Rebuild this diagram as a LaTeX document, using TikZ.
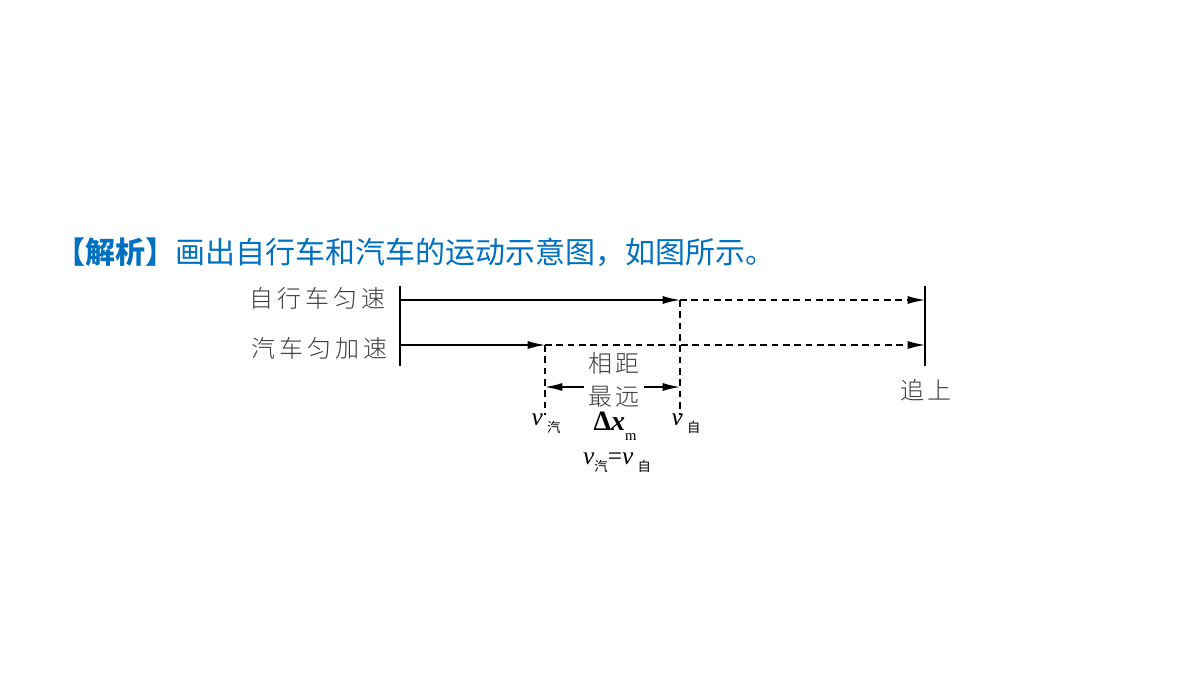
\documentclass[tikz,border=0pt]{standalone}
\usepackage{fontspec}
\setmainfont{Liberation Serif}
\newfontfamily\cjk{Noto Sans CJK SC}
\newfontfamily\cjklab[LetterSpace=16]{Noto Sans CJK SC Light}
\usetikzlibrary{arrows.meta}
\definecolor{titleblue}{RGB}{0,112,192}
\definecolor{labgray}{RGB}{60,60,60}
\newcommand{\subcn}[1]{\raisebox{-0.6ex}{\cjk\fontsize{10}{10}\selectfont #1}}

\begin{document}
\begin{tikzpicture}[x=0.75pt,y=-0.75pt,line join=round,>={Latex[length=13pt,width=6pt]},line width=1pt]
	\tikzset{lab/.style={font=\cjklab\fontsize{18}{21}\selectfont,text=labgray,inner sep=0pt},
		sym/.style={font=\fontsize{19}{22}\selectfont,inner sep=0pt},
		dashline/.style={dash pattern=on 5pt off 3.5pt,line width=1pt}}
	\useasboundingbox (0,0) rectangle (1200,675);
	% title
	\node[anchor=west,inner sep=0pt,text=titleblue,font=\cjk\fontsize{22.5}{26}\selectfont] (title) at (55,252)
		{{\bfseries 【解析】}画出自行车和汽车的运动示意图，如图所示。};
	% start and end lines
	\coordinate (s1) at (400,286); \coordinate (s2) at (400,366);
	\coordinate (e1) at (925,286); \coordinate (e2) at (925,366);
	\draw (s1)--(s2);
	\draw (e1)--(e2);
	% bicycle
	\coordinate (b0) at (400,300); \coordinate (b1) at (680,300); \coordinate (b2) at (925,300);
	\draw[->] (b0)--(b1);
	\draw[->,dashline] (b1)--(b2);
	% car
	\coordinate (c0) at (400,345); \coordinate (c1) at (545,345); \coordinate (c2) at (925,345);
	\draw[->] (c0)--(c1);
	\draw[->,dashline] (c1)--(c2);
	% dashed verticals
	\coordinate (d1) at (545,415); \coordinate (d2) at (680,415);
	\draw[dashline] (c1)--(d1);
	\draw[dashline] (b1)--(d2);
	% labels
	\node[lab,anchor=east] (bike) at (386,298) {自行车匀速};
	\node[lab,anchor=east] (car) at (388,348) {汽车匀加速};
	\node[lab] (catch) at (926,390) {追上};
	\node[lab] (dist1) at (614,363) {相距};
	\node[lab] (dist2) at (614,397) {最远};
	\coordinate (m1) at (545,387); \coordinate (m2) at (680,387);
	\draw[->] (dist2.west|-m1)++(-3,0)--(m1);
	\draw[->] (dist2.east|-m2)++(3,0)--(m2);
	\node[sym] (vc) at (546,424) {\textit{v}\,\subcn{汽}};
	\node[sym] (dx) at (615,426) {\textbf{\fontsize{21}{24}\selectfont Δ\textit{x}}\raisebox{-0.9ex}{\fontsize{11}{11}\selectfont m}};
	\node[sym] (vb) at (686,424) {\textit{v}\,\subcn{自}};
	\node[sym] (eq) at (617,463) {\textit{v}\subcn{汽}=\textit{v}\,\subcn{自}};
\end{tikzpicture}
\end{document}
